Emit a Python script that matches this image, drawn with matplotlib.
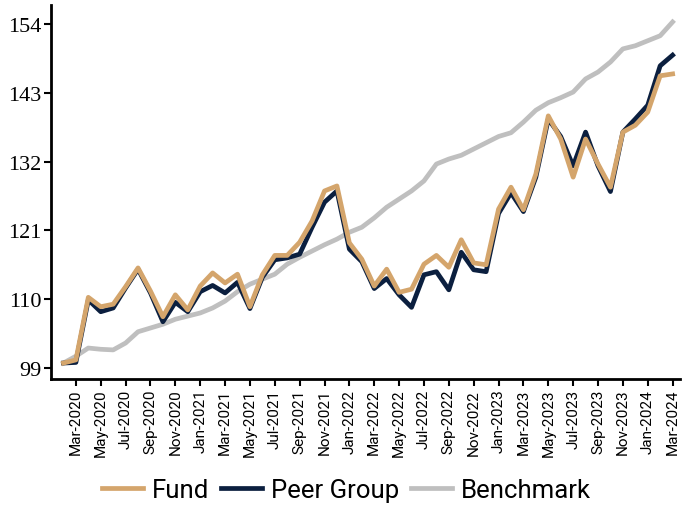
import numpy as np
import pandas as pd
import matplotlib
matplotlib.use('Agg')
import matplotlib.pyplot as plt

# Monthly index values, Feb-2020 to Mar-2024
months = pd.date_range('2020-02-01', '2024-03-01', freq='MS')

fund = [99.8, 100.3, 110.3, 108.8, 109.2, 112.0, 115.0, 111.3, 107.2, 110.7,
        108.3, 112.1, 114.2, 112.6, 114.0, 108.8, 113.9, 117.0, 117.0, 119.1,
        122.5, 127.3, 128.1, 119.0, 116.4, 112.1, 114.8, 111.1, 111.6, 115.6,
        117.0, 115.1, 119.5, 115.8, 115.5, 124.4, 127.9, 124.3, 130.0, 139.3,
        135.6, 129.5, 135.6, 131.6, 127.9, 136.7, 137.8, 139.9, 145.7, 146.0]

peer = [99.8, 99.9, 109.9, 108.0, 108.6, 111.8, 114.8, 111.0, 106.4, 109.5,
        108.0, 111.2, 112.2, 111.0, 112.7, 108.5, 113.5, 116.3, 116.6, 117.2,
        121.5, 125.5, 127.3, 118.0, 116.0, 111.7, 113.3, 110.7, 108.7, 113.9,
        114.4, 111.5, 117.5, 114.7, 114.4, 123.7, 127.0, 124.0, 129.5, 138.8,
        136.0, 131.3, 136.7, 131.3, 127.2, 136.7, 138.8, 141.0, 147.3, 149.0]

bench = [99.8, 100.9, 102.2, 102.0, 101.9, 103.0, 104.8, 105.4, 106.0, 106.8,
         107.3, 107.8, 108.6, 109.7, 111.2, 112.4, 113.2, 114.0, 115.6, 116.7,
         117.7, 118.7, 119.6, 120.7, 121.5, 123.0, 124.7, 126.0, 127.3, 128.9,
         131.6, 132.4, 133.0, 134.0, 135.0, 136.0, 136.6, 138.3, 140.2, 141.4,
         142.2, 143.1, 145.2, 146.3, 147.9, 150.0, 150.5, 151.3, 152.1, 154.3]

yticks = [99, 110, 121, 132, 143, 154]

x = np.arange(len(months))

fig = plt.figure(figsize=(6.83, 5.06), dpi=100)
ax = fig.add_axes([0.0747, 0.249, 0.921, 0.739])

ax.plot(x, bench, color='#bfbfbf', linewidth=3.4, label='Benchmark', zorder=2)
ax.plot(x, peer, color='#0b1f3f', linewidth=3.4, label='Peer Group', zorder=3)
ax.plot(x, fund, color='#d4a56c', linewidth=3.4, label='Fund', zorder=4)

ax.set_xlim(-1, 49.6)
ax.set_ylim(97.25, 157)

tick_pos = x[1::2]
ax.set_xticks(tick_pos)
ax.set_xticklabels([m.strftime('%b-%Y') for m in months[1::2]],
                   rotation=90, fontsize=11, family='Roboto')
ax.set_yticks(yticks)
ax.set_yticklabels([str(v) for v in yticks], fontsize=16, family='Liberation Serif')

for s in ['top', 'right']:
    ax.spines[s].set_visible(False)
for s in ['left', 'bottom']:
    ax.spines[s].set_linewidth(2)
ax.tick_params(axis='both', direction='out', length=5, width=1.5, pad=2)

handles, labels = ax.get_legend_handles_labels()
order = [2, 1, 0]
fig.legend([handles[i] for i in order], [labels[i] for i in order],
           loc='center', bbox_to_anchor=(0.507, 0.03), ncol=3, frameon=False,
           prop={'family': 'Roboto', 'size': 18.5}, handlelength=1.6,
           columnspacing=0.45, handletextpad=0.35)

plt.savefig('out.png', dpi=100)
